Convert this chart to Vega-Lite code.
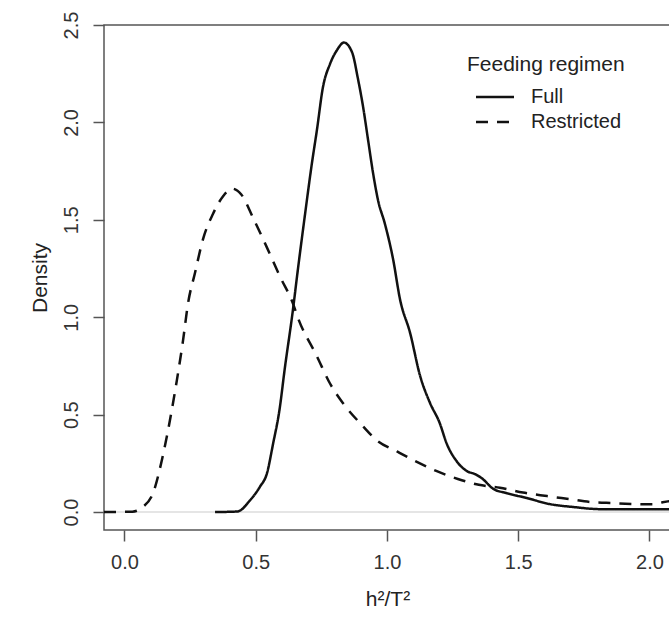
{
  "$schema": "https://vega.github.io/schema/vega-lite/v6.json",
  "width": 567,
  "height": 505,
  "autosize": "none",
  "padding": {"left": 104, "top": 25, "right": 0, "bottom": 100},
  "background": "white",
  "config": {
    "font": "Liberation Sans",
    "view": {"stroke": "#555555", "strokeWidth": 1.5},
    "axis": {"grid": false, "domain": false, "tickColor": "#555555", "tickWidth": 1.5, "tickSize": 11, "labelFont": "Liberation Sans", "labelFontSize": 20, "labelColor": "#333333", "titleFont": "Liberation Sans", "titleFontSize": 21, "titleFontWeight": "normal", "titleColor": "#222222"}
  },
  "datasets": {
    "curves": [
      {"regimen": "Restricted", "x": -0.078, "y": 0},
      {"regimen": "Restricted", "x": 0.03, "y": 0.002},
      {"regimen": "Restricted", "x": 0.07, "y": 0.026},
      {"regimen": "Restricted", "x": 0.109, "y": 0.098},
      {"regimen": "Restricted", "x": 0.143, "y": 0.27},
      {"regimen": "Restricted", "x": 0.173, "y": 0.47},
      {"regimen": "Restricted", "x": 0.2, "y": 0.68},
      {"regimen": "Restricted", "x": 0.223, "y": 0.88},
      {"regimen": "Restricted", "x": 0.242, "y": 1.07},
      {"regimen": "Restricted", "x": 0.269, "y": 1.23},
      {"regimen": "Restricted", "x": 0.299, "y": 1.4},
      {"regimen": "Restricted", "x": 0.337, "y": 1.53},
      {"regimen": "Restricted", "x": 0.375, "y": 1.62},
      {"regimen": "Restricted", "x": 0.41, "y": 1.66},
      {"regimen": "Restricted", "x": 0.445, "y": 1.63},
      {"regimen": "Restricted", "x": 0.49, "y": 1.51},
      {"regimen": "Restricted", "x": 0.542, "y": 1.36},
      {"regimen": "Restricted", "x": 0.592, "y": 1.21},
      {"regimen": "Restricted", "x": 0.642, "y": 1.07},
      {"regimen": "Restricted", "x": 0.66, "y": 1.0},
      {"regimen": "Restricted", "x": 0.733, "y": 0.8},
      {"regimen": "Restricted", "x": 0.783, "y": 0.66},
      {"regimen": "Restricted", "x": 0.832, "y": 0.56},
      {"regimen": "Restricted", "x": 0.909, "y": 0.44},
      {"regimen": "Restricted", "x": 0.96, "y": 0.37},
      {"regimen": "Restricted", "x": 1.04, "y": 0.31},
      {"regimen": "Restricted", "x": 1.11, "y": 0.26},
      {"regimen": "Restricted", "x": 1.19, "y": 0.21},
      {"regimen": "Restricted", "x": 1.27, "y": 0.17},
      {"regimen": "Restricted", "x": 1.35, "y": 0.14},
      {"regimen": "Restricted", "x": 1.43, "y": 0.125},
      {"regimen": "Restricted", "x": 1.518, "y": 0.1},
      {"regimen": "Restricted", "x": 1.61, "y": 0.082},
      {"regimen": "Restricted", "x": 1.697, "y": 0.066},
      {"regimen": "Restricted", "x": 1.773, "y": 0.052},
      {"regimen": "Restricted", "x": 1.862, "y": 0.046},
      {"regimen": "Restricted", "x": 1.952, "y": 0.041},
      {"regimen": "Restricted", "x": 2.01, "y": 0.04},
      {"regimen": "Restricted", "x": 2.05, "y": 0.05},
      {"regimen": "Restricted", "x": 2.09, "y": 0.06},
      {"regimen": "Full", "x": 0.345, "y": 0},
      {"regimen": "Full", "x": 0.43, "y": 0.003},
      {"regimen": "Full", "x": 0.478, "y": 0.06},
      {"regimen": "Full", "x": 0.516, "y": 0.13},
      {"regimen": "Full", "x": 0.543, "y": 0.2},
      {"regimen": "Full", "x": 0.566, "y": 0.35},
      {"regimen": "Full", "x": 0.59, "y": 0.52},
      {"regimen": "Full", "x": 0.611, "y": 0.74},
      {"regimen": "Full", "x": 0.64, "y": 1.02},
      {"regimen": "Full", "x": 0.662, "y": 1.26},
      {"regimen": "Full", "x": 0.688, "y": 1.53},
      {"regimen": "Full", "x": 0.714, "y": 1.79},
      {"regimen": "Full", "x": 0.733, "y": 1.96},
      {"regimen": "Full", "x": 0.756, "y": 2.18},
      {"regimen": "Full", "x": 0.783, "y": 2.3},
      {"regimen": "Full", "x": 0.809, "y": 2.37},
      {"regimen": "Full", "x": 0.836, "y": 2.41},
      {"regimen": "Full", "x": 0.867, "y": 2.36},
      {"regimen": "Full", "x": 0.89, "y": 2.22},
      {"regimen": "Full", "x": 0.909, "y": 2.08},
      {"regimen": "Full", "x": 0.928, "y": 1.91},
      {"regimen": "Full", "x": 0.947, "y": 1.74},
      {"regimen": "Full", "x": 0.966, "y": 1.6},
      {"regimen": "Full", "x": 0.992, "y": 1.48},
      {"regimen": "Full", "x": 1.023, "y": 1.3},
      {"regimen": "Full", "x": 1.05, "y": 1.09},
      {"regimen": "Full", "x": 1.088, "y": 0.92},
      {"regimen": "Full", "x": 1.126, "y": 0.7},
      {"regimen": "Full", "x": 1.164, "y": 0.56},
      {"regimen": "Full", "x": 1.2, "y": 0.46},
      {"regimen": "Full", "x": 1.228, "y": 0.35},
      {"regimen": "Full", "x": 1.266, "y": 0.26},
      {"regimen": "Full", "x": 1.305, "y": 0.21},
      {"regimen": "Full", "x": 1.335, "y": 0.195},
      {"regimen": "Full", "x": 1.36, "y": 0.175},
      {"regimen": "Full", "x": 1.404, "y": 0.12},
      {"regimen": "Full", "x": 1.457, "y": 0.097},
      {"regimen": "Full", "x": 1.533, "y": 0.072},
      {"regimen": "Full", "x": 1.62, "y": 0.041},
      {"regimen": "Full", "x": 1.71, "y": 0.026},
      {"regimen": "Full", "x": 1.81, "y": 0.015},
      {"regimen": "Full", "x": 1.94, "y": 0.014},
      {"regimen": "Full", "x": 2.09, "y": 0.014}
    ]
  },
  "layer": [
    {
      "data": {"values": [{"y": 0}]},
      "mark": {"type": "rule", "color": "#dddddd", "strokeWidth": 1.5},
      "encoding": {"y": {"field": "y", "type": "quantitative", "scale": {"domain": [-0.092, 2.5], "nice": false, "zero": false}}}
    },
    {
      "data": {"name": "curves"},
      "mark": {"type": "line", "color": "#111111", "strokeWidth": 2.5, "clip": true, "interpolate": "monotone"},
      "encoding": {
        "x": {"field": "x", "type": "quantitative", "title": "h²/T²",
          "scale": {"domain": [-0.078, 2.082], "nice": false, "zero": false},
          "axis": {"values": [0, 0.5, 1, 1.5, 2], "format": ".1f", "labelPadding": 11, "titlePadding": 16}},
        "y": {"field": "y", "type": "quantitative", "title": "Density",
          "scale": {"domain": [-0.092, 2.5], "nice": false, "zero": false},
          "axis": {"values": [0, 0.5, 1, 1.5, 2, 2.5], "format": ".1f", "labelAngle": 270, "labelAlign": "center", "labelBaseline": "bottom", "labelPadding": 12, "titlePadding": 11}},
        "strokeDash": {"field": "regimen", "type": "nominal",
          "scale": {"domain": ["Full", "Restricted"], "range": [[1, 0], [12, 9]]},
          "legend": {"title": "Feeding regimen", "orient": "none", "legendX": 363, "legendY": 29, "padding": 0,
            "symbolType": "M-2,0H2", "symbolSize": 361, "symbolStrokeWidth": 2.5, "symbolStrokeColor": "#111111", "symbolOffset": 17,
            "labelFontSize": 20, "labelColor": "#222222", "labelOffset": 25, "rowPadding": 4,
            "titleFontSize": 21, "titleFontWeight": "normal", "titleColor": "#222222", "titlePadding": 11}}
      }
    }
  ]
}
